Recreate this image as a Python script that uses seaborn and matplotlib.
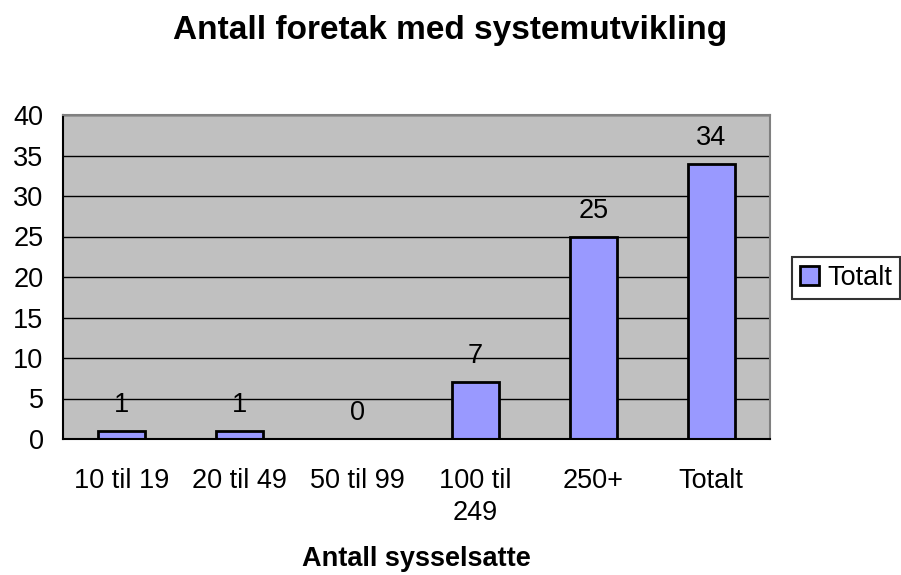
import matplotlib
matplotlib.use("Agg")
import matplotlib.pyplot as plt
import seaborn as sns
import pandas as pd

# Data
categories = ["10 til 19", "20 til 49", "50 til 99", "100 til\n249", "250+", "Totalt"]
values = [1, 1, 0, 7, 25, 34]
series_name = "Totalt"

df = pd.DataFrame({"kategori": categories, "antall": values})

sns.set_style("white")
plt.rcParams["font.family"] = ["Liberation Sans", "DejaVu Sans"]
plt.rcParams["text.color"] = "black"
plt.rcParams["axes.labelcolor"] = "black"
plt.rcParams["xtick.color"] = "black"
plt.rcParams["ytick.color"] = "black"

fs = 19.5

fig = plt.figure(figsize=(9.01, 5.75), dpi=100)
ax = fig.add_axes([63 / 901, 1 - 439 / 575, 707 / 901, 324 / 575])
ax.set_facecolor("#C0C0C0")

sns.barplot(data=df, x="kategori", y="antall", color="#9999FF", width=0.4,
            edgecolor="black", linewidth=2, saturation=1, ax=ax)

# value labels
for i, v in enumerate(values):
    ax.text(i, v + 1.6, str(v), ha="center", va="bottom", fontsize=fs)

ax.set_ylim(0, 40)
ax.set_xlim(-0.5, len(categories) - 0.5)
ax.set_yticks(range(0, 41, 5))
ax.yaxis.grid(True, color="black", linewidth=1)
ax.set_axisbelow(True)

# ticks between categories like Excel
ax.set_xticks(range(len(categories)))
ax.set_xticklabels(categories, linespacing=1.3)
ax.tick_params(axis="x", which="major", length=0, pad=21, labelsize=fs)
ax.set_xticks([i + 0.5 for i in range(-1, len(categories))], minor=True)
ax.tick_params(axis="x", which="minor", length=8, width=1.5, direction="out", color="black")
ax.tick_params(axis="y", length=8, width=1.5, direction="out", color="black", labelsize=fs, pad=6)

for side in ["left", "bottom"]:
    ax.spines[side].set_color("black")
    ax.spines[side].set_linewidth(1.5)
for side in ["top", "right"]:
    ax.spines[side].set_color("#808080")
    ax.spines[side].set_linewidth(1.5)

ax.set_xlabel("Antall sysselsatte", fontsize=fs, fontweight="bold", labelpad=14)
ax.set_ylabel("")

fig.text(0.5, 1 - 31 / 575, "Antall foretak med systemutvikling", fontsize=24,
         fontweight="bold", ha="center", va="center")

handle = plt.Rectangle((0, 0), 1, 1, facecolor="#9999FF", edgecolor="black", linewidth=2)
leg = fig.legend(handles=[handle], labels=[series_name], loc="center left",
                 bbox_to_anchor=(792 / 901, 1 - 278 / 575), fontsize=fs,
                 frameon=True, fancybox=False, edgecolor="black",
                 handlelength=0.7, handleheight=0.7, handletextpad=0.3,
                 borderpad=0.3, borderaxespad=0)
leg.get_frame().set_linewidth(1.5)

fig.savefig("out.png", dpi=100, facecolor="white")
